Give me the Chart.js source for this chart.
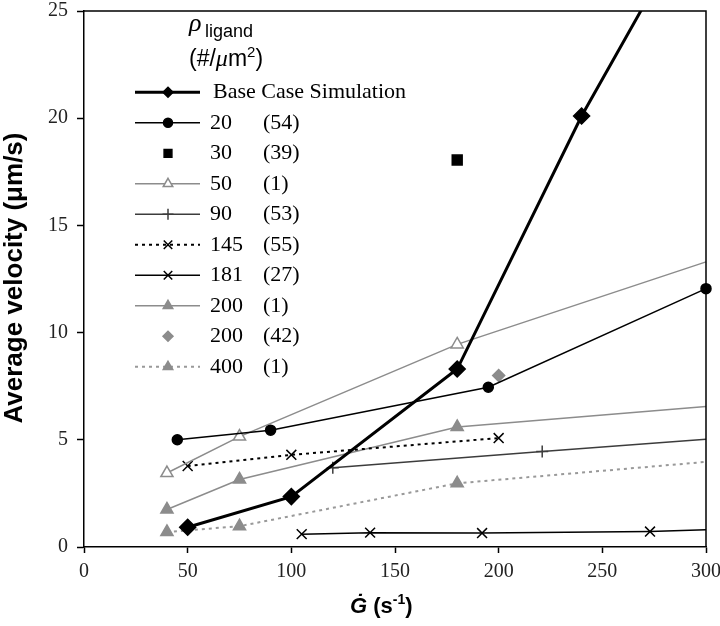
<!DOCTYPE html>
<html>
<head>
<meta charset="utf-8">
<script src="https://cdn.jsdelivr.net/npm/chart.js@4.4.1/dist/chart.umd.min.js"></script>
<style>
  html, body { margin: 0; padding: 0; background: #fff; }
  canvas { display: block; }
</style>
</head>
<body>
<canvas id="chart" width="720" height="626"></canvas>
<script>
// values
const xTicks = [0, 50, 100, 150, 200, 250, 300];
const yTicks = [0, 5, 10, 15, 20, 25];

const densities = ['Base Case Simulation', '20', '30', '50', '90', '145', '181', '200', '200', '400'];
const counts = ['', '(54)', '(39)', '(1)', '(53)', '(55)', '(27)', '(1)', '(42)', '(1)'];

const baseX = [50, 100, 180, 240, 300];
const baseY = [0.92, 2.35, 8.3, 20.1, 30.4];
const d20X = [45, 90, 195, 300];
const d20Y = [5.0, 5.45, 7.45, 12.05];
const d30X = [180];
const d30Y = [18.05];
const d50X = [40, 75, 180, 300];
const d50Y = [3.45, 5.15, 9.45, 13.3];
const d90X = [120, 221, 300];
const d90Y = [3.7, 4.45, 5.03];
const d145X = [50, 100, 200];
const d145Y = [3.78, 4.3, 5.08];
const d181X = [105, 138, 192, 273, 300];
const d181Y = [0.6, 0.67, 0.65, 0.72, 0.8];
const d200X = [40, 75, 180, 300];
const d200Y = [1.75, 3.15, 5.6, 6.55];
const d200bX = [200];
const d200bY = [8.0];
const d400X = [40, 75, 180, 300];
const d400Y = [0.7, 0.97, 2.97, 3.97];

const GRAY = '#8c8c8c';
const SERIF = '"Liberation Serif", "Times New Roman", serif';
const SANS = '"Liberation Sans", Arial, sans-serif';

function pts(xs, ys) {
    return xs.map((x, i) => ({ x: x, y: ys[i] }));
}

// openEnd: last point only continues the line to the right edge, no marker
function series(idx, xs, ys, opts) {
    const r = opts.pointRadius;
    const last = xs.length - 1;
    return Object.assign({
        label: densities[idx],
        data: pts(xs, ys),
        showLine: true,
        borderColor: '#000',
        borderWidth: 1.5,
        pointBorderWidth: 1.5,
        tension: 0,
        clip: { left: 12, top: 0, right: 12, bottom: 12 }
    }, opts, {
        pointRadius: ctx => (opts.openEnd && ctx.dataIndex === last) ? 0 : r
    });
}

const datasets = [
    series(0, baseX, baseY, { borderWidth: 3, pointStyle: 'rectRot', pointRadius: 8, pointBackgroundColor: '#000', pointBorderColor: '#000', openEnd: true, legendRadius: 5 }),
    series(1, d20X, d20Y, { pointStyle: 'circle', pointRadius: 5, pointBackgroundColor: '#000', pointBorderColor: '#000', legendRadius: 4.5 }),
    series(2, d30X, d30Y, { showLine: false, pointStyle: 'rect', pointRadius: 7, pointBackgroundColor: '#000', pointBorderColor: '#000', legendRadius: 5.5 }),
    series(3, d50X, d50Y, { borderColor: GRAY, pointStyle: 'triangle', pointRadius: 7, pointBackgroundColor: '#fff', pointBorderColor: GRAY, openEnd: true, legendRadius: 5.5 }),
    series(4, d90X, d90Y, { borderColor: '#3c3c3c', pointStyle: 'cross', pointRadius: 6, pointBorderColor: '#3c3c3c', openEnd: true, legendRadius: 5.5 }),
    series(5, d145X, d145Y, { borderWidth: 2, borderDash: [3, 4], pointStyle: 'crossRot', pointRadius: 7, pointBorderColor: '#000', legendRadius: 6 }),
    series(6, d181X, d181Y, { pointStyle: 'crossRot', pointRadius: 7, pointBorderColor: '#000', openEnd: true, legendRadius: 6 }),
    series(7, d200X, d200Y, { borderColor: GRAY, pointStyle: 'triangle', pointRadius: 7, pointBackgroundColor: GRAY, pointBorderColor: GRAY, openEnd: true, legendRadius: 5.5 }),
    series(8, d200bX, d200bY, { showLine: false, pointStyle: 'rectRot', pointRadius: 6, pointBackgroundColor: GRAY, pointBorderColor: GRAY, legendRadius: 5 }),
    series(9, d400X, d400Y, { borderColor: '#999', borderWidth: 2, borderDash: [3, 4], pointStyle: 'triangle', pointRadius: 7, pointBackgroundColor: GRAY, pointBorderColor: GRAY, openEnd: true, legendRadius: 5.5 })
];

// frame, axis titles and the in-plot legend
const decorations = {
    id: 'decorations',
    afterDraw(chart) {
        const ctx = chart.ctx;
        const a = chart.chartArea;
        ctx.save();

        // top and right frame lines
        ctx.strokeStyle = '#000';
        ctx.lineWidth = 1.5;
        ctx.beginPath();
        ctx.moveTo(a.left, a.top);
        ctx.lineTo(a.right, a.top);
        ctx.lineTo(a.right, a.bottom);
        ctx.stroke();

        ctx.fillStyle = '#000';
        ctx.textAlign = 'left';
        ctx.textBaseline = 'alphabetic';

        // y title
        ctx.save();
        ctx.translate(22, 278);
        ctx.rotate(-Math.PI / 2);
        ctx.textAlign = 'center';
        ctx.font = 'bold 26px ' + SANS;
        ctx.fillText('Average velocity (\u03bcm/s)', 0, 0);
        ctx.restore();

        // x title
        let x = 350;
        const by = 613;
        ctx.font = 'italic bold 22px ' + SANS;
        ctx.fillText('\u0120', x, by);
        x += ctx.measureText('\u0120').width;
        ctx.font = 'bold 22px ' + SANS;
        ctx.fillText(' (s', x, by);
        x += ctx.measureText(' (s').width;
        ctx.font = 'bold 14px ' + SANS;
        ctx.fillText('-1', x, by - 9);
        x += ctx.measureText('-1').width;
        ctx.font = 'bold 22px ' + SANS;
        ctx.fillText(')', x, by);

        // legend title
        ctx.font = 'italic 26px ' + SERIF;
        ctx.fillText('\u03c1', 189, 31);
        ctx.font = '18px ' + SANS;
        ctx.fillText('ligand', 205, 37);
        x = 189;
        const ly = 66;
        ctx.font = '23px ' + SANS;
        ctx.fillText('(#/', x, ly);
        x += ctx.measureText('(#/').width;
        ctx.font = 'italic 24px ' + SERIF;
        ctx.fillText('\u03bc', x, ly);
        x += ctx.measureText('\u03bc').width;
        ctx.font = '23px ' + SANS;
        ctx.fillText('m', x, ly);
        x += ctx.measureText('m').width;
        ctx.font = '15px ' + SANS;
        ctx.fillText('2', x, ly - 9);
        x += ctx.measureText('2').width;
        ctx.font = '23px ' + SANS;
        ctx.fillText(')', x, ly);

        // legend rows
        chart.data.datasets.forEach((ds, i) => {
            const y = 92.3 + i * 30.5;
            if (ds.showLine) {
                ctx.save();
                ctx.strokeStyle = ds.borderColor;
                ctx.lineWidth = ds.borderWidth;
                ctx.setLineDash(ds.borderDash || []);
                ctx.beginPath();
                ctx.moveTo(135, y);
                ctx.lineTo(200, y);
                ctx.stroke();
                ctx.restore();
            }
            ctx.save();
            ctx.fillStyle = ds.pointBackgroundColor || ds.pointBorderColor;
            ctx.strokeStyle = ds.pointBorderColor;
            ctx.lineWidth = 1.5;
            Chart.helpers.drawPoint(ctx, {
                pointStyle: ds.pointStyle,
                radius: ds.legendRadius,
                rotation: 0,
                borderWidth: 1.5
            }, 168, y);
            ctx.restore();

            ctx.fillStyle = '#000';
            ctx.font = '22px ' + SERIF;
            ctx.textBaseline = 'middle';
            if (i === 0) {
                ctx.fillText(densities[i], 213, y);
            } else {
                ctx.fillText(densities[i], 210, y);
                ctx.fillText(counts[i], 263, y);
            }
            ctx.textBaseline = 'alphabetic';
        });

        ctx.restore();
    }
};

new Chart(document.getElementById('chart'), {
    type: 'scatter',
    data: { datasets: datasets },
    options: {
        responsive: false,
        animation: false,
        events: [],
        devicePixelRatio: 1,
        layout: { padding: { top: 11, right: 14, left: 0, bottom: 0 } },
        plugins: {
            legend: { display: false },
            tooltip: { enabled: false }
        },
        scales: {
            x: {
                type: 'linear',
                min: 0,
                max: 300,
                afterBuildTicks: s => { s.ticks = xTicks.map(v => ({ value: v })); },
                afterFit: s => { s.height = 79; s.paddingLeft = 0; s.paddingRight = 0; },
                border: { display: true, color: '#000', width: 1.5 },
                grid: { display: true, drawOnChartArea: false, drawTicks: true, tickLength: 6, tickColor: '#000', tickWidth: 1.5 },
                ticks: { color: '#222', padding: 7, maxRotation: 0, font: { family: SERIF, size: 20 } }
            },
            y: {
                type: 'linear',
                min: 0,
                max: 25,
                afterBuildTicks: s => { s.ticks = yTicks.map(v => ({ value: v })); },
                afterFit: s => { s.width = 84; s.paddingTop = 0; s.paddingBottom = 0; },
                border: { display: true, color: '#000', width: 1.5 },
                grid: { display: true, drawOnChartArea: false, drawTicks: true, tickLength: 7, tickColor: '#000', tickWidth: 1.5 },
                ticks: { color: '#222', padding: 9, font: { family: SERIF, size: 20 } }
            }
        }
    },
    plugins: [decorations]
});
</script>
</body>
</html>
